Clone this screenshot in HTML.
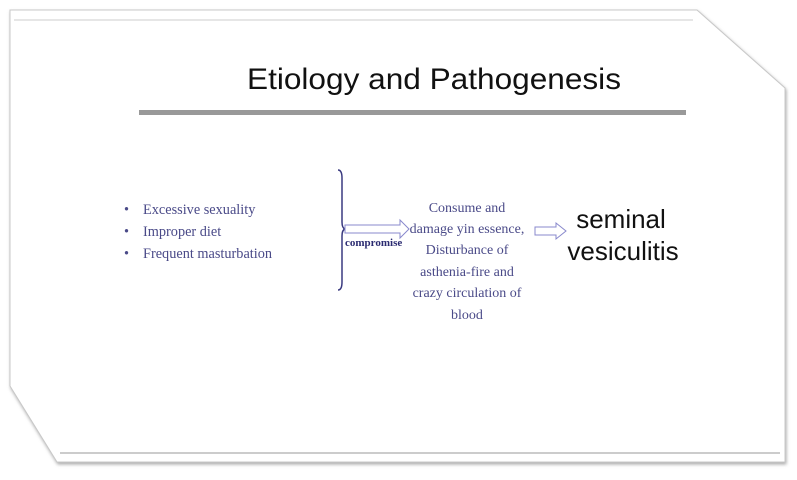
<!DOCTYPE html>
<html><head><meta charset="utf-8"><style>html,body{margin:0;padding:0;background:#fff;}</style></head>
<body>
<svg width="797" height="475" xmlns="http://www.w3.org/2000/svg">
<defs><filter id="s" x="-5%" y="-5%" width="110%" height="110%"><feDropShadow dx="1" dy="2" stdDeviation="1.5" flood-color="#888" flood-opacity="0.7"/></filter></defs>
<polygon points="10,10 697,10 785,88 785,462 57,462 10,386" fill="#fff" stroke="#c8c8c8" stroke-width="1" filter="url(#s)"/>
<line x1="14" y1="20" x2="693" y2="20" stroke="#ddd" stroke-width="1.5"/>
<line x1="60" y1="453" x2="780" y2="453" stroke="#999" stroke-width="1"/>
<text x="247" y="89" font-family="Liberation Sans, sans-serif" font-size="30" textLength="374" lengthAdjust="spacingAndGlyphs" fill="#111">Etiology and Pathogenesis</text>
<rect x="139" y="110" width="547" height="5" fill="#999"/>
<g font-family="Liberation Serif, serif" font-size="14.3" fill="#4a4a88">
<text x="124" y="214">•</text><text x="143" y="214">Excessive sexuality</text>
<text x="124" y="236">•</text><text x="143" y="236">Improper diet</text>
<text x="124" y="258">•</text><text x="143" y="258">Frequent masturbation</text>
<g text-anchor="middle" font-size="14">
<text x="467" y="212">Consume and</text>
<text x="467" y="233">damage yin essence,</text>
<text x="467" y="254">Disturbance of</text>
<text x="467" y="276">asthenia-fire and</text>
<text x="467" y="297">crazy circulation of</text>
<text x="467" y="319">blood</text>
</g>
<text x="345" y="246" font-size="11" font-weight="bold" fill="#2a2a70">compromise</text>
</g>
<path d="M338,170 Q342,170 342,178 L342,222 Q342,228 345,229 Q342,230 342,236 L342,282 Q342,290 338,290" fill="none" stroke="#3a3a80" stroke-width="1.5"/>
<polygon points="345,225 400,225 400,220 409,229 400,238 400,233 345,233" fill="#fff" stroke="#8888cc" stroke-width="1"/>
<polygon points="535,227 556,227 556,223 566,231 556,239 556,235 535,235" fill="#fff" stroke="#8888cc" stroke-width="1"/>
<g font-family="Liberation Sans, sans-serif" font-size="26" fill="#111" text-anchor="middle">
<text x="621" y="228">seminal</text>
<text x="623" y="260">vesiculitis</text>
</g>
</svg>
</body></html>
